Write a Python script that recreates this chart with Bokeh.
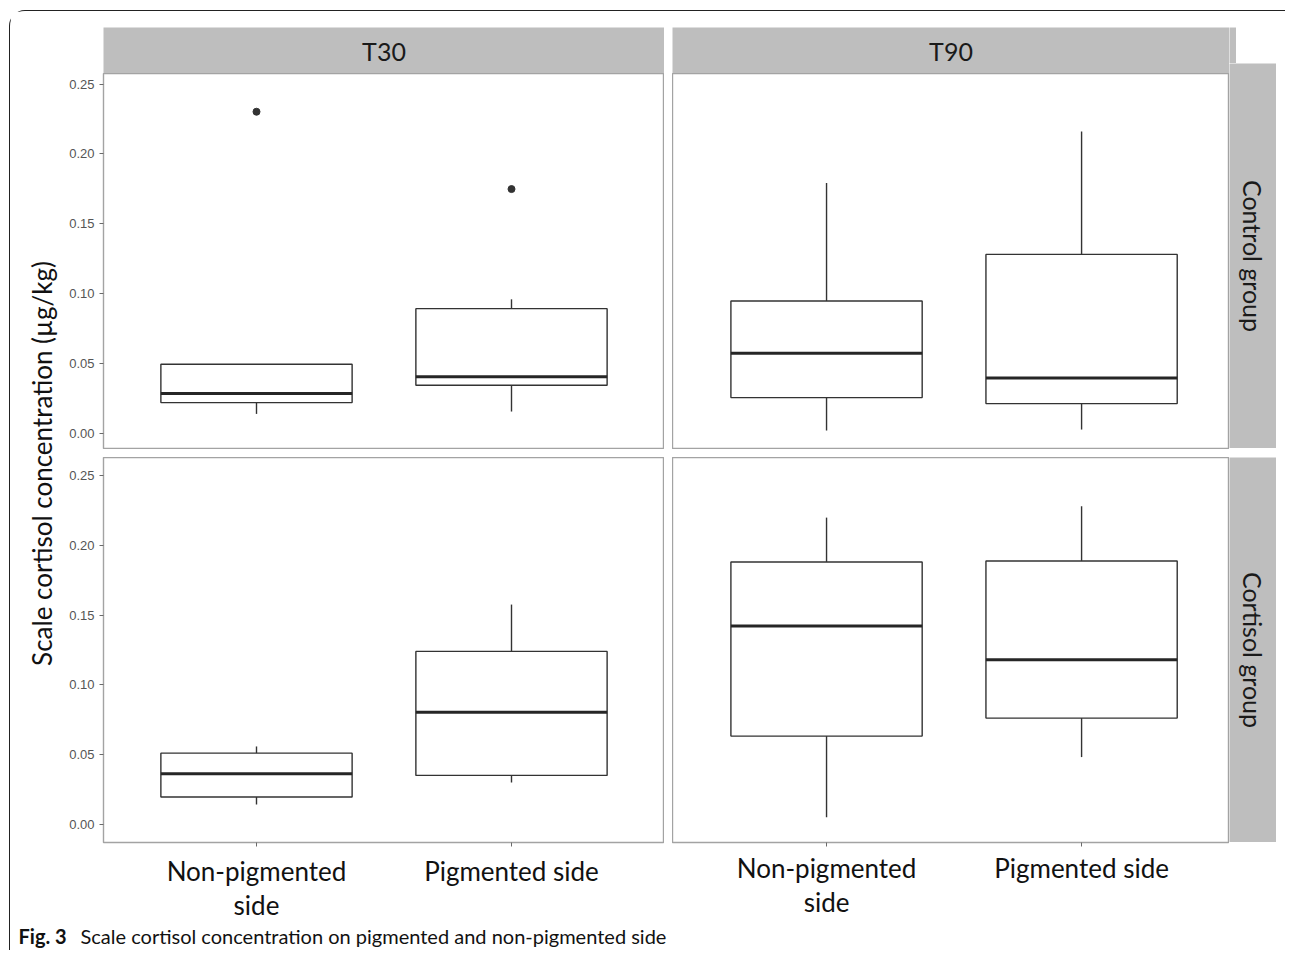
import math
from bokeh.plotting import figure
from bokeh.layouts import row, column
from bokeh.models import (Range1d, FixedTicker, NumeralTickFormatter, Spacer,
                          FactorRange, Label, ColumnDataSource)
from bokeh.embed import file_html
from bokeh.resources import INLINE
from bokeh.core.properties import value

# ---------------- data ----------------
time_points = ["T30", "T90"]
groups = ["Control group", "Cortisol group"]
sides = ["Non-pigmented side", "Pigmented side"]
side_tick_labels = ["Non-pigmented\nside", "Pigmented side"]
y_ticks = [0.00, 0.05, 0.10, 0.15, 0.20, 0.25]
y_label = "Scale cortisol concentration (µg/kg)"
caption_bold = "Fig. 3"
caption_text = "Scale cortisol concentration on pigmented and non-pigmented side"

# box statistics, order = [Non-pigmented side, Pigmented side]
ctrl_t30_lower = [0.0137, 0.0154]
ctrl_t30_q1 = [0.0218, 0.0342]
ctrl_t30_median = [0.0283, 0.0404]
ctrl_t30_q3 = [0.0493, 0.0891]
ctrl_t30_upper = [0.0493, 0.0958]
ctrl_t30_outlier_side = ["Non-pigmented side", "Pigmented side"]
ctrl_t30_outlier_value = [0.2302, 0.1748]

ctrl_t90_lower = [0.0018, 0.0025]
ctrl_t90_q1 = [0.0254, 0.0211]
ctrl_t90_median = [0.0571, 0.0395]
ctrl_t90_q3 = [0.0946, 0.1280]
ctrl_t90_upper = [0.1791, 0.2161]

cort_t30_lower = [0.0145, 0.0303]
cort_t30_q1 = [0.0198, 0.0353]
cort_t30_median = [0.0365, 0.0804]
cort_t30_q3 = [0.0512, 0.1240]
cort_t30_upper = [0.0560, 0.1575]

cort_t90_lower = [0.0054, 0.0484]
cort_t90_q1 = [0.0634, 0.0763]
cort_t90_median = [0.1421, 0.1181]
cort_t90_q3 = [0.1880, 0.1887]
cort_t90_upper = [0.2197, 0.2278]

# ---------------- styles ----------------
FONT = "Lato"
STRIP_FILL = "#bebebe"
BOX_COLOR = "#333333"
BORDER_COLOR = "#a3a3a3"
TICK_COLOR = "#6a6a6a"
TICKLABEL_COLOR = "#555555"
BOX_WIDTH = 0.75

ROW_TOP_Y = (-0.0118, 0.2576)
ROW_BOT_Y = (-0.0127, 0.2627)
LEFT_X = (0.4, 2.6)
RIGHT_X = (0.396, 2.58)


def base_fig(width, height, **kw):
    opts = dict(width=width, height=height, output_backend="svg", toolbar_location=None,
                min_border_left=0, min_border_right=0, min_border_top=0, min_border_bottom=0,
                background_fill_color="white", border_fill_color="white",
                outline_line_color=None)
    opts.update(kw)
    p = figure(**opts)
    p.xgrid.visible = False
    p.ygrid.visible = False
    return p


def panel(width, height, xr, yr, lower, q1, med, q3, upper, out_side=None, out_val=None,
          show_y=False, show_x=False, min_left=0, min_bottom=0, x_standoff=10):
    p = base_fig(width, height,
                 x_range=Range1d(*xr), y_range=Range1d(*yr),
                 x_axis_location="below" if show_x else None,
                 y_axis_location="left" if show_y else None,
                 min_border_left=min_left, min_border_bottom=min_bottom,
                 outline_line_color=BORDER_COLOR, outline_line_width=1.4)
    pos = [sides.index(s) + 1 for s in sides]
    src = ColumnDataSource(dict(
        x=pos, lower=lower, q1=q1, med=med, q3=q3, upper=upper,
        x0=[x - BOX_WIDTH / 2 for x in pos], x1=[x + BOX_WIDTH / 2 for x in pos]))
    p.segment(x0="x", y0="q3", x1="x", y1="upper", source=src,
              line_color=BOX_COLOR, line_width=1.4)
    p.segment(x0="x", y0="q1", x1="x", y1="lower", source=src,
              line_color=BOX_COLOR, line_width=1.4)
    p.vbar(x="x", width=BOX_WIDTH, bottom="q1", top="q3", source=src,
           fill_color="white", line_color=BOX_COLOR, line_width=1.4)
    p.segment(x0="x0", y0="med", x1="x1", y1="med", source=src,
              line_color="#262626", line_width=3)
    if out_side:
        p.scatter(x=[sides.index(s) + 1 for s in out_side], y=out_val, size=7,
                  fill_color="#333333", line_color="#333333")
    if show_y:
        ax = p.yaxis[0]
        ax.ticker = FixedTicker(ticks=y_ticks)
        ax.formatter = NumeralTickFormatter(format="0.00")
        ax.axis_line_color = None
        ax.major_tick_line_color = TICK_COLOR
        ax.major_tick_out = 4
        ax.major_tick_in = 0
        ax.minor_tick_line_color = None
        ax.major_label_standoff = 5
        ax.major_label_text_font = "Liberation Sans"
        ax.major_label_text_font_size = "13px"
        ax.major_label_text_color = TICKLABEL_COLOR
    if show_x:
        ax = p.xaxis[0]
        ax.ticker = FixedTicker(ticks=[1, 2])
        ax.major_label_overrides = {i + 1: lab for i, lab in enumerate(side_tick_labels)}
        ax.axis_line_color = None
        ax.major_tick_line_color = TICK_COLOR
        ax.major_tick_out = 4
        ax.major_tick_in = 0
        ax.minor_tick_line_color = None
        ax.major_label_standoff = x_standoff
        ax.major_label_text_font = FONT
        ax.major_label_text_font_size = "26px"
        ax.major_label_text_color = "#111111"
        ax.major_label_text_line_height = 1.09
    return p


def strip_h(width, label, min_left=0):
    p = base_fig(width, 46, x_range=FactorRange(factors=[label]),
                 y_range=FactorRange(factors=[label]),
                 x_axis_location=None, y_axis_location=None,
                 min_border_left=min_left, background_fill_color=STRIP_FILL)
    p.text(x=[label], y=[label], text=[label], text_align="center", text_baseline="middle",
           text_font=value(FONT), text_font_size="25px", text_color="#1a1a1a")
    return p


def strip_v(height, label):
    p = base_fig(47, height, x_range=FactorRange(factors=[label]),
                 y_range=FactorRange(factors=[label]),
                 x_axis_location=None, y_axis_location=None,
                 background_fill_color=STRIP_FILL)
    p.text(x=[label], y=[label], text=[label], angle=-math.pi / 2,
           text_align="center", text_baseline="middle",
           text_font=value(FONT), text_font_size="25px", text_color="#1a1a1a")
    return p


# ---------------- panels ----------------
p_tl = panel(602, 376, LEFT_X, ROW_TOP_Y, ctrl_t30_lower, ctrl_t30_q1, ctrl_t30_median,
             ctrl_t30_q3, ctrl_t30_upper, ctrl_t30_outlier_side, ctrl_t30_outlier_value,
             show_y=True, min_left=41)
p_bl = panel(602, 468, LEFT_X, ROW_BOT_Y, cort_t30_lower, cort_t30_q1, cort_t30_median,
             cort_t30_q3, cort_t30_upper, show_y=True, show_x=True, min_left=41,
             min_bottom=83, x_standoff=8)
p_tr = panel(557, 376, RIGHT_X, ROW_TOP_Y, ctrl_t90_lower, ctrl_t90_q1, ctrl_t90_median,
             ctrl_t90_q3, ctrl_t90_upper)
p_br = panel(557, 468, RIGHT_X, ROW_BOT_Y, cort_t90_lower, cort_t90_q1, cort_t90_median,
             cort_t90_q3, cort_t90_upper, show_x=True, min_bottom=83, x_standoff=5)

s_t30 = strip_h(602, time_points[0], min_left=41)
s_t90 = strip_h(557, time_points[1])
s_ctrl = strip_v(385, groups[0])
s_cort = strip_v(385, groups[1])

# small grey piece continuing the T90 strip to the right
corner = base_fig(7, 36, x_range=Range1d(0, 1), y_range=Range1d(0, 1),
                  x_axis_location=None, y_axis_location=None,
                  background_fill_color=STRIP_FILL)

# y axis title
ytitle = base_fig(52, 914, x_range=Range1d(0, 1), y_range=Range1d(0, 1),
                  x_axis_location=None, min_border_left=51,
                  min_border_top=74, min_border_bottom=84)
ya = ytitle.yaxis[0]
ya.ticker = FixedTicker(ticks=[])
ya.axis_line_color = None
ya.major_tick_line_color = None
ya.minor_tick_line_color = None
ya.major_tick_out = 0
ya.major_label_standoff = 0
ya.axis_label = y_label
ya.axis_label_text_font = FONT
ya.axis_label_text_font_size = "26px"
ya.axis_label_text_font_style = "normal"
ya.axis_label_text_color = "#111111"
ya.axis_label_standoff = 4

# caption
cap = base_fig(1266, 25, x_range=Range1d(0, 1), y_range=Range1d(0, 1),
               x_axis_location=None, y_axis_location=None)
cap.add_layout(Label(x=8, y=15, x_units="screen", y_units="screen", text=caption_bold,
                     text_font=FONT, text_font_style="bold", text_font_size="20px",
                     text_baseline="middle", text_color="#111111"))
cap.add_layout(Label(x=70, y=15, x_units="screen", y_units="screen", text=caption_text,
                     text_font=FONT, text_font_size="20px",
                     text_baseline="middle", text_color="#111111"))

left_col = column(Spacer(width=602, height=16), s_t30, p_tl, Spacer(width=602, height=8), p_bl)
mid_col = column(Spacer(width=557, height=16), s_t90, p_tr, Spacer(width=557, height=8), p_br)
right_col = column(Spacer(width=47, height=16),
                   row(corner, Spacer(width=40, height=36)),
                   s_ctrl, Spacer(width=47, height=9),
                   s_cort, Spacer(width=47, height=83))

main = row(ytitle, left_col, Spacer(width=8, height=10), mid_col, right_col,
           Spacer(width=9, height=10))
layout = column(main, cap, margin=(10, 0, 0, 9),
                styles={"border-top": "1.3px solid #222222",
                        "border-left": "1.3px solid #222222",
                        "border-top-left-radius": "16px"})

open("out.html", "w").write(file_html(layout, INLINE))
